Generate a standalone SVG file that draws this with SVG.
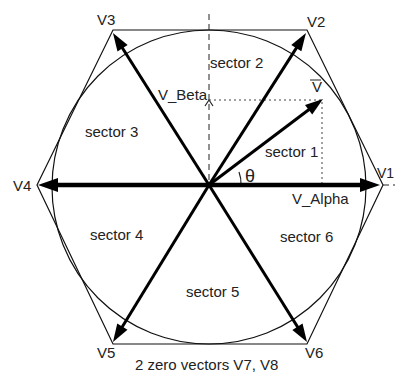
<svg xmlns="http://www.w3.org/2000/svg" width="395" height="373" viewBox="0 0 395 373">
<style>
text{font-family:"Liberation Sans",Arial,sans-serif;font-size:15px;fill:#222}
.thin{fill:none;stroke:#111;stroke-width:1.2}
.vec{stroke:#000;stroke-width:3;fill:none;marker-end:url(#ah)}
.vech{stroke:#000;stroke-width:4.5;fill:none;marker-end:url(#ahb)}
.dash{stroke:#222;stroke-width:1;stroke-dasharray:6 4;fill:none}
.dot{stroke:#444;stroke-width:1;stroke-dasharray:2 3;fill:none}
</style>
<defs>
<marker id="ah" markerUnits="userSpaceOnUse" markerWidth="18" markerHeight="12" refX="8" refY="6" orient="auto" overflow="visible"><path d="M0,0 L18,6 L0,12 z" fill="#000"/></marker>
<marker id="ahb" markerUnits="userSpaceOnUse" markerWidth="20" markerHeight="14" refX="10" refY="7" orient="auto" overflow="visible"><path d="M0,0 L20,7 L0,14 z" fill="#000"/></marker>
</defs>
<rect width="395" height="373" fill="#fff"/>
<g id="hexagon"><polygon class="thin" points="37,185 113,30 307,30 383,185 307,344 113,344"/></g>
<g id="circle"><circle class="thin" cx="209" cy="187" r="157"/></g>
<g id="axes">
<line class="dash" x1="209" y1="14" x2="209" y2="185"/>
<line class="dash" x1="383" y1="185" x2="395" y2="185"/>
<polyline points="205,106 209,100 213,106" fill="none" stroke="#222" stroke-width="1.2"/>
<polyline class="dot" points="209,100 322,100 322,185"/>
<path d="M241,185 A32,32 0 0 0 239,172" fill="none" stroke="#222" stroke-width="1.2"/>
</g>
<g id="connectors">
<line class="vech" x1="209" y1="185" x2="370" y2="185"/>
<line class="vech" x1="209" y1="185" x2="48" y2="185"/>
<line class="vec" x1="209" y1="185" x2="300.6" y2="41.4"/>
<line class="vec" x1="209" y1="185" x2="118.3" y2="41.5"/>
<line class="vec" x1="209" y1="185" x2="118.2" y2="333.5"/>
<line class="vec" x1="209" y1="185" x2="301.7" y2="333.5"/>
<line class="vec" x1="209" y1="185" x2="315" y2="105"/>
</g>
<g id="labels">
<text x="97" y="25">V3</text>
<text x="307" y="27">V2</text>
<text x="13" y="191">V4</text>
<text x="377" y="178" style="font-size:14px">V1</text>
<text x="97" y="358">V5</text>
<text x="305" y="358">V6</text>
<text x="312" y="92">V</text>
<line x1="310" y1="80" x2="321" y2="80" stroke="#222" stroke-width="1"/>
<text x="158" y="100">V_Beta</text>
<text x="292" y="204">V_Alpha</text>
<text x="245" y="182" style="font-size:18px">θ</text>
<text x="210" y="68">sector 2</text>
<text x="265" y="157">sector 1</text>
<text x="85" y="137">sector 3</text>
<text x="90" y="240">sector 4</text>
<text x="186" y="297">sector 5</text>
<text x="280" y="242">sector 6</text>
<text x="135" y="370">2 zero vectors V7, V8</text>
</g>
</svg>
